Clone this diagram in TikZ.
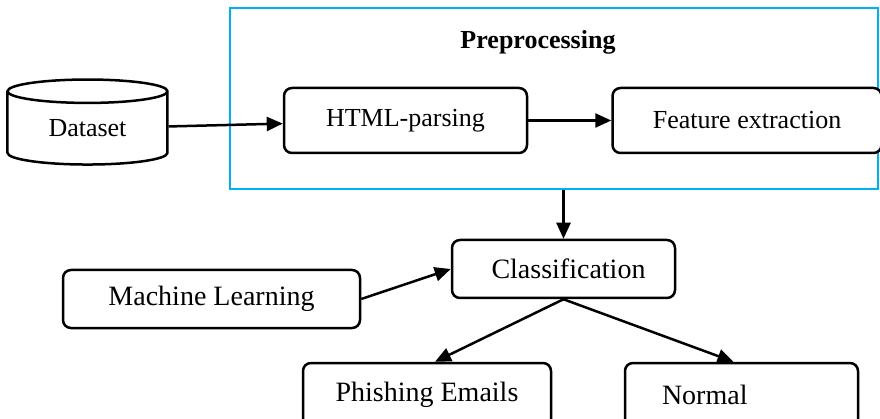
\documentclass[tikz,border=0pt]{standalone}
\usepackage{fontspec}
\setmainfont{Liberation Serif}
\usetikzlibrary{arrows.meta,positioning,shapes.geometric}
\definecolor{preblue}{HTML}{00B0F0}
\begin{document}
\begin{tikzpicture}[x=1pt,y=-1pt, node distance=83pt,
box/.style={draw,line width=2.5pt,rounded corners=8pt,fill=white,align=center,inner sep=0pt},
upper/.style={box,minimum width=243pt,minimum height=65pt,font=\fontsize{26}{30}\selectfont},
lower/.style={box,minimum height=58pt,font=\fontsize{28}{32}\selectfont},
dbase/.style={draw,line width=2.5pt,cylinder,shape border rotate=90,aspect=0.3,
minimum width=160pt,minimum height=85pt,inner sep=0pt,font=\fontsize{26}{30}\selectfont},
arr/.style={-{Triangle[length=16pt,width=14pt]},line width=2.5pt}]
\useasboundingbox (0,0) rectangle (880,419);
\node[draw=preblue,line width=2.5pt,minimum width=648pt,minimum height=181pt] (pre) at (554,98.5) {};
\node[font=\bfseries\fontsize{26}{30}\selectfont] (title) at (538,42) {Preprocessing};
\node[upper] (html) at (405.5,120.5) {HTML-parsing};
\node[upper,minimum width=269pt,right=of html] (feat) {Feature extraction};
\node[dbase,left=114pt of html,yshift=-8pt] (ds) {Dataset};
\node[lower,minimum width=223pt] (cls) at (563.5,269) {\hspace{10pt}Classification};
\node[lower,minimum width=297pt] (ml) at (211.5,299) {Machine Learning};
\node[lower,minimum width=248pt,minimum height=64pt] (ph) at (427,395) {Phishing Emails};
\node[lower,minimum width=233pt,minimum height=64pt,text width=159pt,inner xsep=37pt,align=left] (nrm) at (741.5,395) {Normal};
\draw[arr] (ds) -- (html);\draw[arr] (html) -- (feat);
\draw[arr] (cls.north |- pre.south) -- (cls.north);
\draw[arr] (ml.east) -- (cls.west);
\draw[arr] (cls.south) -- ([xshift=8pt]ph.north);\draw[arr] (cls.south) -- ([xshift=-8pt]nrm.north);
\end{tikzpicture}
\end{document}
